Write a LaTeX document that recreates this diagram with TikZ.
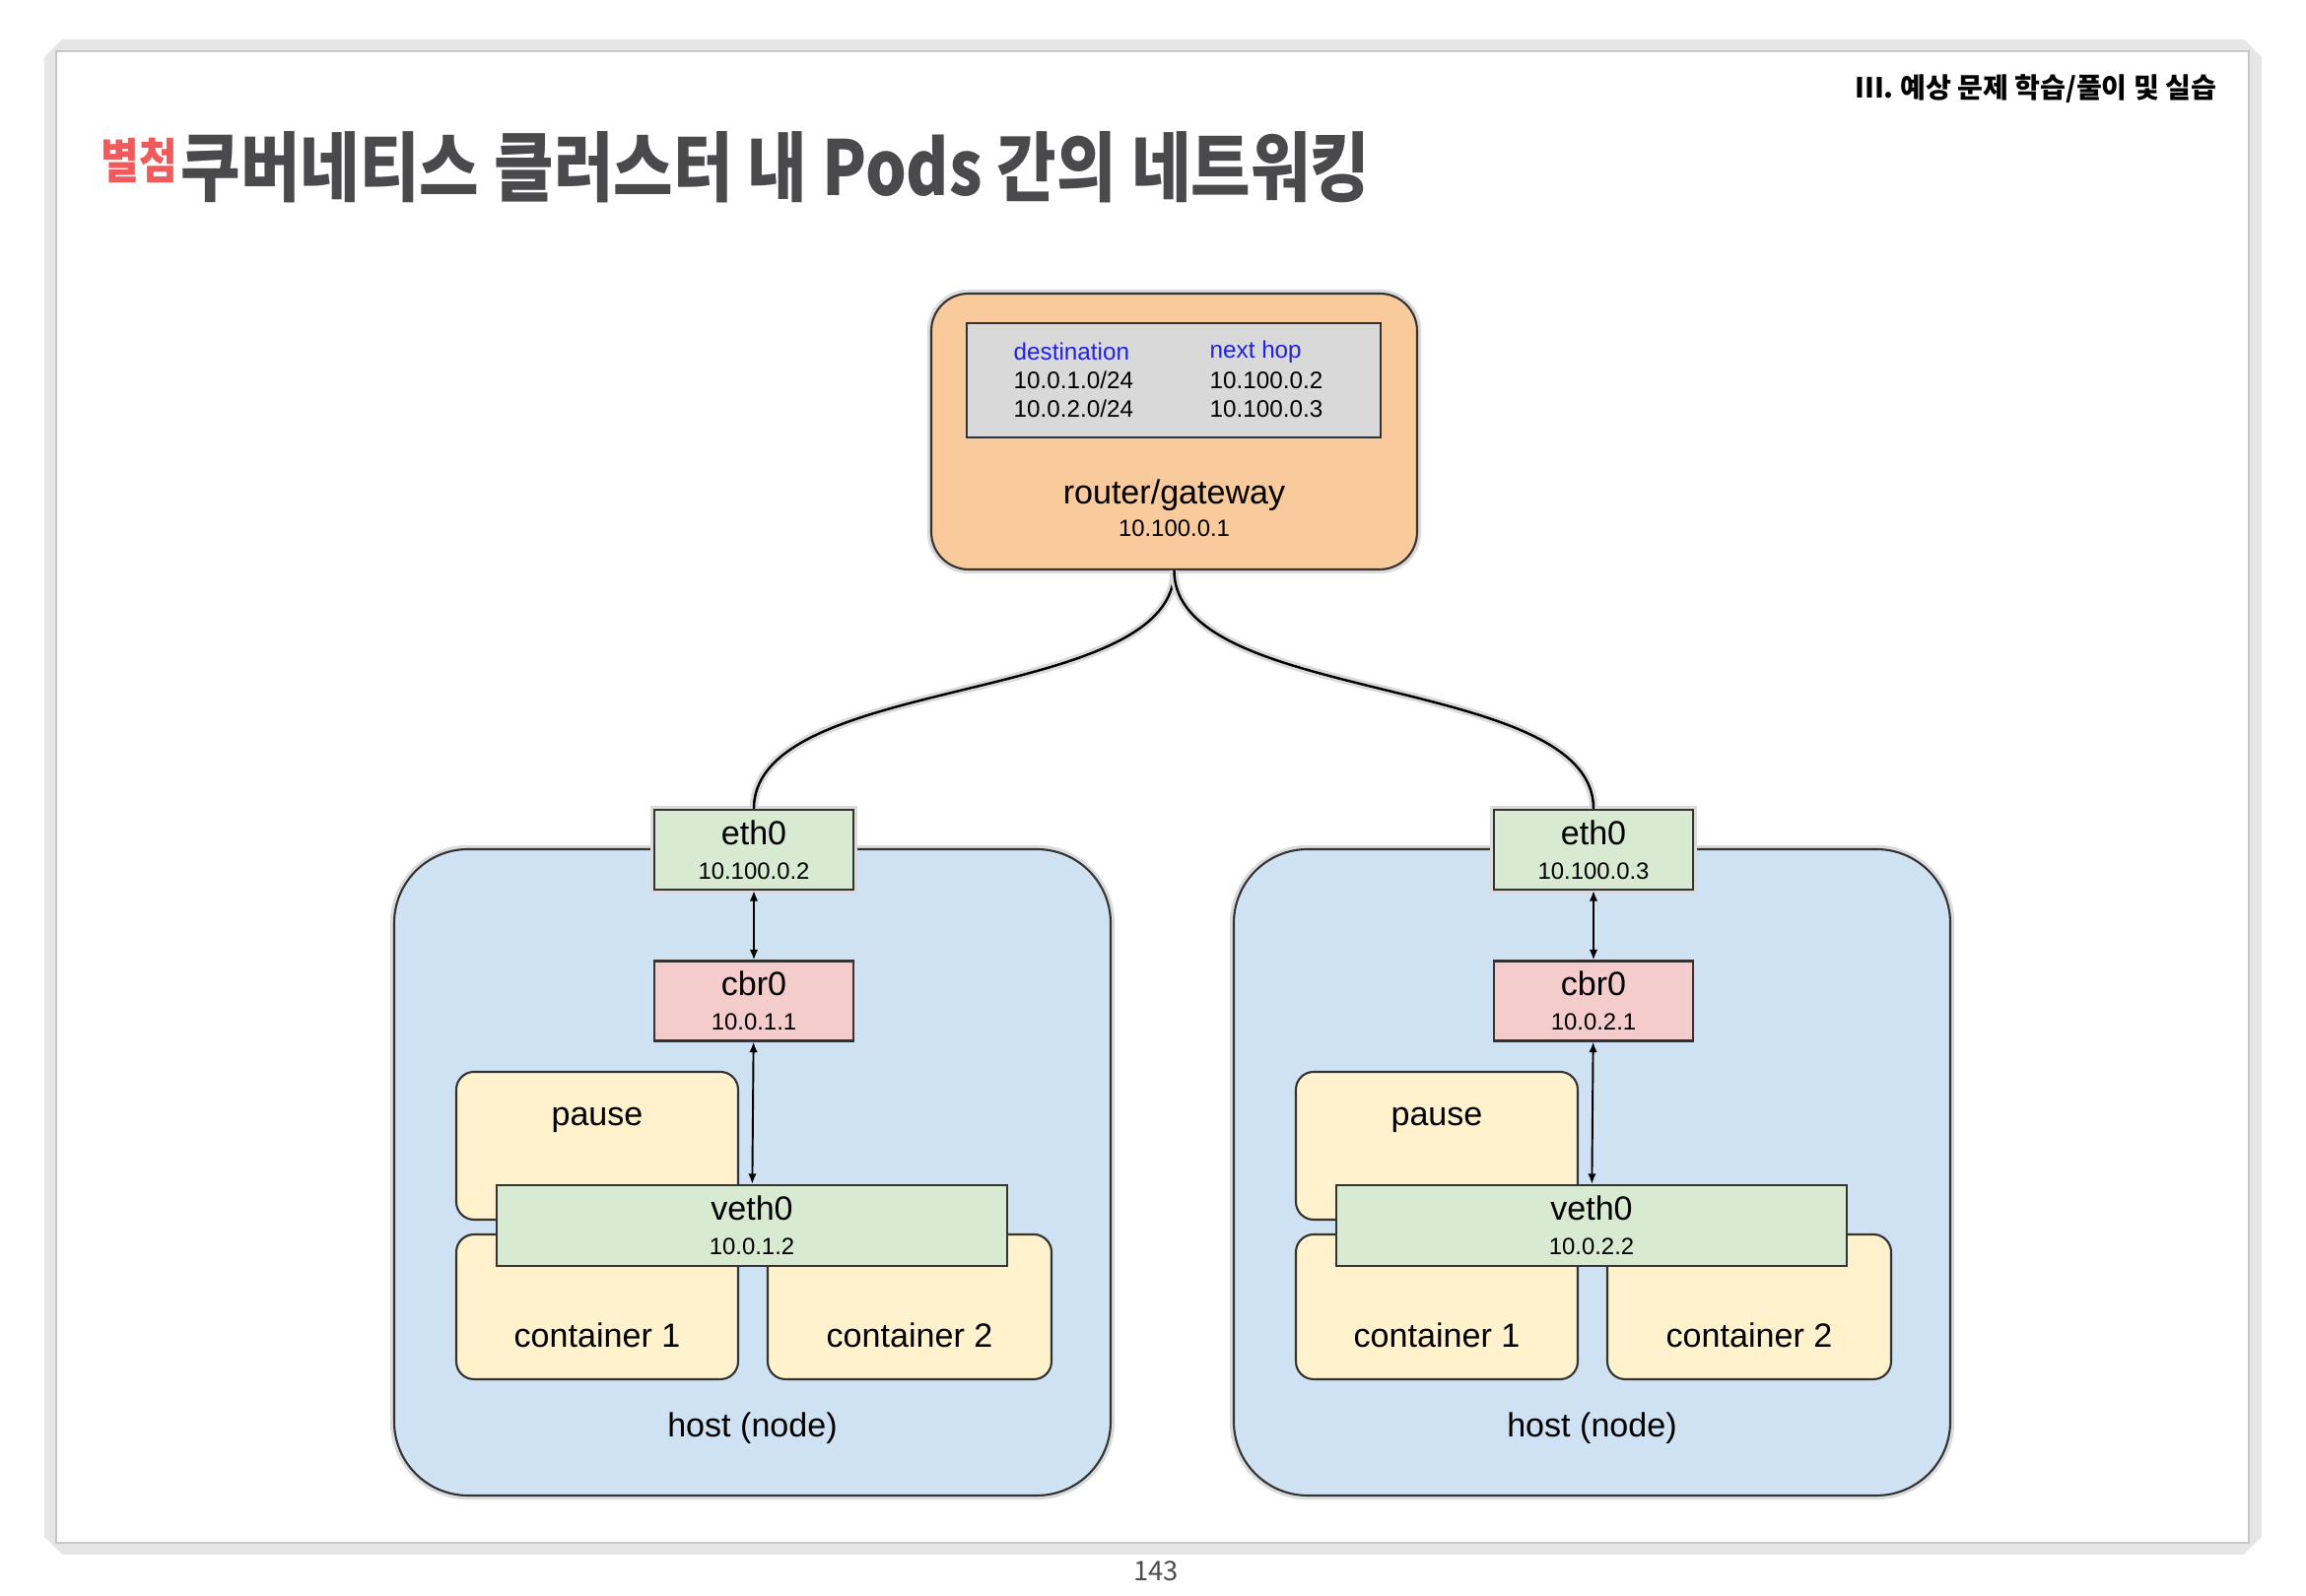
\documentclass[tikz,border=0pt]{standalone}
\usepackage{fontspec}
\setmainfont{Liberation Sans}
\newfontfamily\kofont{Noto Sans CJK KR}
\newfontfamily\kotitle[FakeStretch=0.855]{Noto Sans CJK KR}
\newfontfamily\komark[FakeStretch=0.86]{Noto Sans CJK KR}
\usetikzlibrary{arrows.meta,positioning}

\definecolor{routerfill}{HTML}{F9CB9C}
\definecolor{tablefill}{HTML}{D9D9D9}
\definecolor{hostfill}{HTML}{CFE2F3}
\definecolor{ifacefill}{HTML}{D9EAD3}
\definecolor{bridgefill}{HTML}{F4CCCC}
\definecolor{podfill}{HTML}{FFF2CC}
\definecolor{framegray}{HTML}{E6E6E6}
\definecolor{titlegray}{HTML}{4A4A4D}
\definecolor{markred}{HTML}{F05A5A}
\definecolor{headblue}{HTML}{2020E6}
\definecolor{linegray}{HTML}{333333}

\newcommand{\lblfont}{\fontsize{9.7}{10}\selectfont}
\newcommand{\ipfont}{\fontsize{6.8}{10}\selectfont}
\newcommand{\iface}[2]{#1\\{\ipfont #2}}

\begin{document}
\begin{tikzpicture}[
    halo/.style={preaction={draw=black!14, line width=2.4pt}},
    outline/.style={draw=linegray, line width=0.6pt},
    hostbox/.style={outline, halo, fill=hostfill, rounded corners=0.75cm},
    ifacebox/.style={outline, fill=ifacefill, minimum width=2.02cm, minimum height=0.81cm, align=center, inner sep=0pt, font=\lblfont},
    bridgebox/.style={ifacebox, fill=bridgefill},
    podbox/.style={outline, fill=podfill, rounded corners=0.18cm, minimum width=2.86cm, minimum height=1.47cm, inner sep=0pt},
    lbl/.style={font=\lblfont, inner sep=0pt},
    iplbl/.style={font=\ipfont, inner sep=0pt},
    tbl/.style={font=\fontsize{6.9}{8}\selectfont, inner sep=0pt, anchor=west},
    link/.style={draw=black, line width=0.55pt, {Latex[length=3pt,width=2.4pt]}-{Latex[length=3pt,width=2.4pt]}},
    wire/.style={draw=black, line width=0.7pt, halo},
]
    \useasboundingbox (0,0) rectangle (23.4,16.2);

    % Page frame
    \fill[framegray] (0.45,0.60) -- (0.45,15.62) -- (0.63,15.80) -- (22.77,15.80) -- (22.95,15.62) -- (22.95,0.60) -- (22.77,0.42) -- (0.63,0.42) -- cycle;
    \draw[fill=white, draw=black!22, line width=0.4pt] (0.57,0.54) rectangle (22.82,15.68);

    % Header and title
    \node[anchor=east, inner sep=0pt, font=\kofont\bfseries\fontsize{8.0}{8}\selectfont] (chapter) at (22.50,15.30) {III. 예상 문제 학습/풀이 및 실습};
    \node[anchor=west, inner sep=0pt, text=markred, font=\komark\bfseries\fontsize{13.9}{14}\selectfont] (mark) at (1.02,14.57) {별첨};
    \node[anchor=west, inner sep=0pt, text=titlegray, font=\kotitle\bfseries\fontsize{21.9}{22}\selectfont] (title) at (1.83,14.50) {쿠버네티스 클러스터 내 Pods 간의 네트워킹};
    \node[inner sep=0pt, text=black!70, font=\kofont\fontsize{7.8}{8}\selectfont] (pagenum) at (11.73,0.25) {143};

    % Router with routing table
    \node[outline, halo, fill=routerfill, rounded corners=0.38cm, minimum width=4.93cm, minimum height=2.80cm] (router) at (11.915,11.82) {};
    \node[outline, fill=tablefill, minimum width=4.20cm, minimum height=1.16cm, inner sep=0pt] (table) at (11.91,12.34) {};
    \node[tbl, text=headblue] (desthead) at (10.28,12.63) {destination};
    \node[tbl] (destone) at (10.28,12.34) {10.0.1.0/24};
    \node[tbl] (desttwo) at (10.28,12.05) {10.0.2.0/24};
    \node[tbl, text=headblue] (hophead) at (12.27,12.63) {next hop};
    \node[tbl] (hopone) at (12.27,12.34) {10.100.0.2};
    \node[tbl] (hoptwo) at (12.27,12.05) {10.100.0.3};
    \node[lbl] (routername) at ([yshift=0.76cm]router.south) {router/gateway};
    \node[iplbl] (routerip) at ([yshift=0.43cm]router.south) {10.100.0.1};

    % Hosts
    \foreach \dx/\h/\ethip/\cbrip/\vethip in {0/a/10.100.0.2/10.0.1.1/10.0.1.2, 8.52/b/10.100.0.3/10.0.2.1/10.0.2.2}{
      \begin{scope}[xshift=\dx cm]
        \node[hostbox, minimum width=7.27cm, minimum height=6.56cm] (host\h) at (7.635,4.30) {};
        \node[lbl] (hostlbl\h) at ([yshift=0.69cm]host\h.south) {host (node)};
        \node[podbox, minimum height=1.50cm] (pause\h) at (6.06,4.57) {};
        \node[lbl] (pauselbl\h) at ([yshift=-0.50cm]pause\h.north) {pause};
        \node[podbox] (contone\h) at (6.06,2.935) {};
        \node[lbl] (contonelbl\h) at ([yshift=0.46cm]contone\h.south) {container 1};
        \node[podbox, minimum width=2.88cm] (conttwo\h) at (9.23,2.935) {};
        \node[lbl] (conttwolbl\h) at ([yshift=0.46cm]conttwo\h.south) {container 2};
        \node[ifacebox, minimum width=5.18cm, minimum height=0.82cm] (veth\h) at (7.63,3.76) {\iface{veth0}{\vethip}};
        \node[bridgebox] (cbr\h) at (7.65,6.04) {\iface{cbr0}{\cbrip}};
        \node[ifacebox, halo] (eth\h) at (7.65,7.575) {\iface{eth0}{\ethip}};
        \draw[link] (eth\h) -- (cbr\h);
        \draw[link] (cbr\h) -- (veth\h);
      \end{scope}
    }

    % Links to the router
    \draw[wire] (router.south) to[out=-90, in=90, looseness=0.72] (etha.north);
    \draw[wire] (router.south) to[out=-90, in=90, looseness=0.72] (ethb.north);
\end{tikzpicture}
\end{document}
